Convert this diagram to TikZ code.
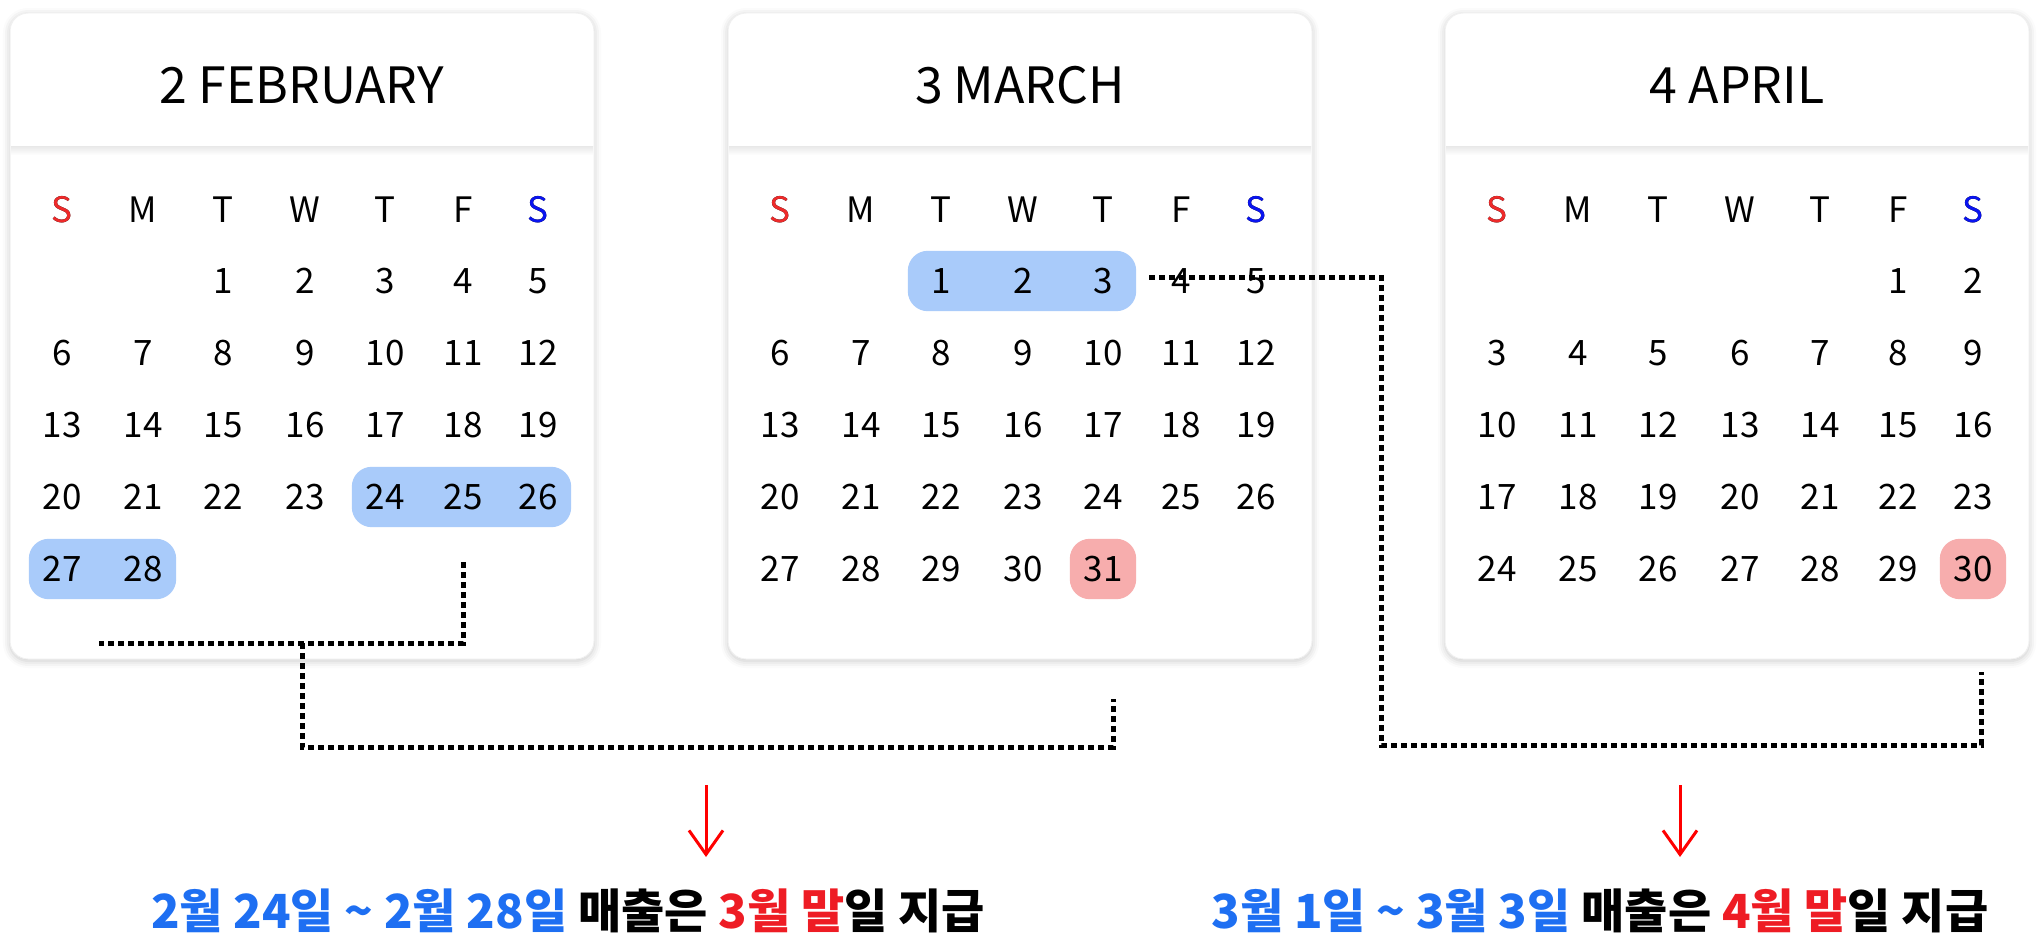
\documentclass[tikz,border=0pt]{standalone}
\usepackage{fontspec}
\setmainfont{Noto Sans CJK KR}
\usetikzlibrary{arrows.meta,fit,backgrounds,shadows.blur}

\definecolor{pillblue}{HTML}{A9CBFA}
\definecolor{pillred}{HTML}{F7ADAD}
\definecolor{sunred}{HTML}{EE2A2A}
\definecolor{satblue}{HTML}{0A14F0}
\definecolor{payblue}{HTML}{1E6FF2}
\definecolor{payred}{HTML}{EE1C24}

\tikzset{
  card/.style={fill=white, draw=black!6, line width=1pt, rounded corners=18pt,
    blur shadow={shadow xshift=0pt, shadow yshift=-2pt, shadow blur radius=7pt, shadow opacity=22}},
  cardtitle/.style={font=\fontsize{50}{56}\selectfont},
  wkday/.style={font=\fontsize{35}{40}\selectfont},
  day/.style={font=\fontsize{35}{40}\selectfont, minimum width=66pt, minimum height=60pt, inner sep=0pt},
  bluepill/.style={fill=pillblue, rounded corners=20pt, inner sep=0pt},
  redpill/.style={fill=pillred, rounded corners=20pt, inner sep=0pt},
  dots/.style={line width=5pt, dash pattern=on 6pt off 4pt},
  payarrow/.style={red, line width=3pt, -{Straight Barb[length=24pt,width=34pt,line width=3pt]}},
  paytext/.style={font=\fontsize{47}{52}\selectfont\bfseries}
}

% column offsets from the card's left edge
\def\colx{{52,133,213,295,375,453,528}}

% #1 name, #2 left edge, #3 title, #4 first column, #5 number of days
\newcommand{\monthcard}[5]{
  \begin{pgfonlayer}{background}
    \draw[card] (#2,13) rectangle ++(584,646);
    \fill[top color=black!9, bottom color=white] (#2+1,146) rectangle ++(582,9);
  \end{pgfonlayer}
  \node[cardtitle] (#1title) at (#2+292,85) {#3};
  \foreach \w [count=\c from 0] in {S,M,T,W,T,F,S}{
    \pgfmathsetmacro{\cx}{\colx[\c]}
    \node[wkday] (#1wk\c) at (#2+\cx,210) {\w};
  }
  \foreach \d in {1,...,#5}{
    \pgfmathtruncatemacro{\p}{\d-1+#4}
    \pgfmathtruncatemacro{\col}{mod(\p,7)}
    \pgfmathtruncatemacro{\row}{int(\p/7)}
    \pgfmathsetmacro{\cx}{\colx[\col]}
    \node[day] (#1\d) at (#2+\cx,281+72*\row) {\d};
  }
}

\begin{document}
\begin{tikzpicture}[x=1pt,y=-1pt]
  \useasboundingbox (0,0) rectangle (2041,942);

  \monthcard{feb}{10}{2 FEBRUARY}{2}{28}
  \monthcard{mar}{728}{3 MARCH}{2}{31}
  \monthcard{apr}{1445}{4 APRIL}{5}{30}

  % weekend colours
  \foreach \m in {feb,mar,apr}{
    \node[wkday, text=sunred] at (\m wk0) {S};
    \node[wkday, text=satblue] at (\m wk6) {S};
  }

  % highlighted days
  \begin{pgfonlayer}{background}
    \node[bluepill, fit=(feb24)(feb26)] (febend) {};
    \node[bluepill, fit=(feb27)(feb28)] (febend2) {};
    \node[bluepill, fit=(mar1)(mar3)] (marstart) {};
    \node[redpill, fit=(mar31)] (marpay) {};
    \node[redpill, fit=(apr30)] (aprpay) {};
  \end{pgfonlayer}

  % brackets
  \coordinate (febtop) at (463,562);
  \coordinate (febleft) at (99,643);
  \coordinate (febmid) at (302,643);
  \coordinate (marbot) at (1113,699);
  \coordinate (marsrc) at (1149,277);
  \coordinate (turn) at (1381,745);
  \coordinate (aprbot) at (1981,672);
  \draw[dots] (febtop) |- (febleft);
  \draw[dots] (febmid) -- ++(0,104) -| (marbot);
  \draw[dots] (marsrc) -| (turn) -| (aprbot);

  % payment notes
  \node[paytext] (pay1) at (568,911)
    {\textcolor{payblue}{2월 24일 \textasciitilde{} 2월 28일} 매출은 \textcolor{payred}{3월 말}일 지급};
  \node[paytext] (pay2) at (1600,911)
    {\textcolor{payblue}{3월 1일 \textasciitilde{} 3월 3일} 매출은 \textcolor{payred}{4월 말}일 지급};
  \coordinate (arr1) at (706,785);
  \coordinate (arr2) at (1680,785);
  \draw[payarrow] (arr1) -- ++(0,72);
  \draw[payarrow] (arr2) -- ++(0,72);
\end{tikzpicture}
\end{document}
